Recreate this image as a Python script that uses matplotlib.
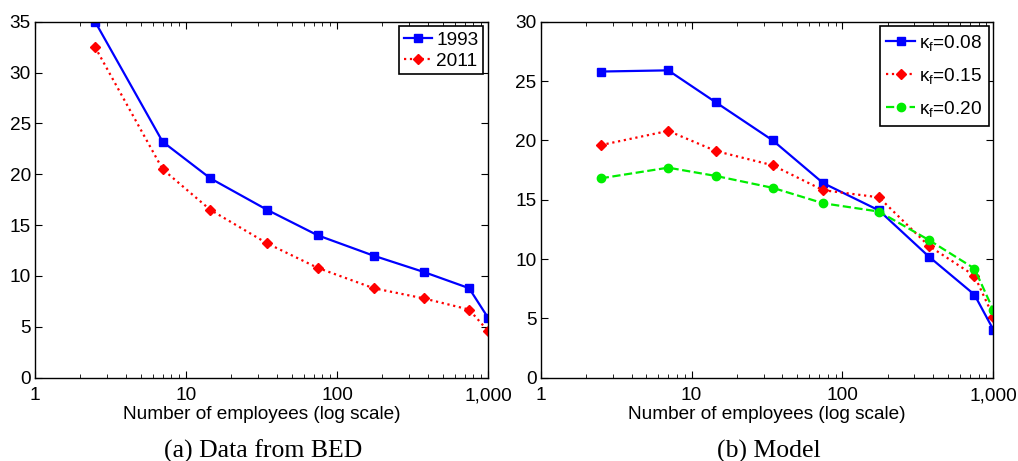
import matplotlib.pyplot as plt
import matplotlib.ticker as mticker

# firm size bins (midpoints)
size = [2.5, 7, 14.5, 34.5, 74.5, 174.5, 374.5, 749.5, 1000]

# (a) data from BED
bed_1993 = [35.0, 23.2, 19.6, 16.5, 14.0, 12.0, 10.4, 8.8, 5.9]
bed_2011 = [32.5, 20.5, 16.5, 13.2, 10.8, 8.8, 7.8, 6.7, 4.6]

# (b) model
kf_008 = [25.8, 25.9, 23.2, 20.0, 16.4, 14.1, 10.2, 7.0, 4.05]
kf_015 = [19.6, 20.8, 19.1, 17.9, 15.8, 15.2, 11.1, 8.6, 5.15]
kf_020 = [16.8, 17.7, 17.0, 16.0, 14.7, 14.0, 11.6, 9.2, 5.7]

plt.rcParams['font.family'] = ['Liberation Sans', 'DejaVu Sans']
plt.rcParams['mathtext.fontset'] = 'custom'
plt.rcParams['mathtext.rm'] = 'Liberation Sans'
plt.rcParams['mathtext.it'] = 'Liberation Sans'
fs = 13.7

fig = plt.figure(figsize=(10.18, 4.61), dpi=100)
W, H = 1018, 461
ax1 = fig.add_axes([35 / W, 1 - 377.7 / H, (488 - 35) / W, 356 / H])
ax2 = fig.add_axes([540.7 / W, 1 - 377.7 / H, (993.3 - 540.7) / W, 356 / H])

ax1.plot(size, bed_1993, '-', color='blue', lw=1.6, marker='s', ms=5.5, label='1993')
ax1.plot(size, bed_2011, ':', color='red', lw=1.6, marker='D', ms=5, label='2011')

ax2.plot(size, kf_008, '-', color='blue', lw=1.6, marker='s', ms=5.5, label=r'$\kappa_f$=0.08')
ax2.plot(size, kf_015, ':', color='red', lw=1.6, marker='D', ms=5, label=r'$\kappa_f$=0.15')
ax2.plot(size, kf_020, '--', color='#00ee00', lw=1.6, marker='o', ms=6, label=r'$\kappa_f$=0.20')

for ax, ymax in ((ax1, 35), (ax2, 30)):
    ax.set_xscale('log')
    ax.set_xlim(1, 1000)
    ax.set_ylim(0, ymax)
    ax.set_yticks(range(0, ymax + 1, 5))
    ax.set_xticks([1, 10, 100, 1000])
    ax.xaxis.set_major_formatter(mticker.FuncFormatter(lambda v, p: f'{int(round(v)):,}'))
    ax.tick_params(which='both', direction='in', top=True, right=True, labelsize=fs)
    ax.tick_params(which='major', length=5)
    ax.tick_params(axis='y', pad=3)
    ax.tick_params(axis='x', pad=7)
    ax.tick_params(which='minor', length=3)
    ax.set_xlabel('Number of employees (log scale)', fontsize=fs, labelpad=1)
    for s in ax.spines.values():
        s.set_linewidth(1.0)

leg1 = ax1.legend(loc='upper right', fancybox=False, edgecolor='black', framealpha=1,
                  fontsize=fs, handlelength=1.5, handletextpad=0.2, borderpad=0.25,
                  borderaxespad=0.25, labelspacing=0.2)
leg2 = ax2.legend(loc='upper right', fancybox=False, edgecolor='black', framealpha=1,
                  fontsize=fs, handlelength=1.5, handletextpad=0.2, borderpad=0.35,
                  borderaxespad=0.25, labelspacing=0.68)
for leg in (leg1, leg2):
    leg.get_frame().set_linewidth(1.2)

fig.text(263 / W, 1 - 451 / H, '(a) Data from BED', ha='center', va='center',
         fontsize=18.5, family=['Liberation Serif', 'DejaVu Serif'])
fig.text(769 / W, 1 - 451 / H, '(b) Model', ha='center', va='center',
         fontsize=18.5, family=['Liberation Serif', 'DejaVu Serif'])

fig.savefig('out.png', dpi=100)
